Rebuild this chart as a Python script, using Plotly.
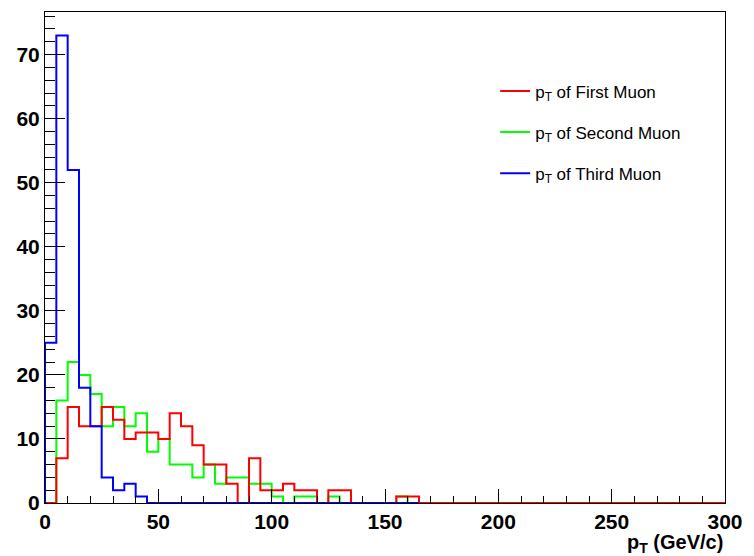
import plotly.graph_objects as go

# Histogram definition: 5 GeV bins from 0 to 300
bin_width = 5
x_min, x_max = 0, 300

# Counts per bin (bin i covers [5*i, 5*i+5))
first_muon = [0, 7, 15, 12, 12, 15, 13, 10, 11, 11, 10, 14, 12, 9, 6, 6, 3, 0, 7, 2,
              2, 3, 2, 2, 0, 2, 2, 0, 0, 0, 0, 1, 1, 0, 0, 0, 0, 0, 0, 0,
              0, 0, 0, 0, 0, 0, 0, 0, 0, 0, 0, 0, 0, 0, 0, 0, 0, 0, 0, 0]
second_muon = [0, 16, 22, 20, 17, 12, 15, 12, 14, 8, 10, 6, 6, 4, 6, 3, 4, 4, 3, 3,
               1, 0, 1, 1, 0, 1, 0, 0, 0, 0, 0, 1, 0, 0, 0, 0, 0, 0, 0, 0,
               0, 0, 0, 0, 0, 0, 0, 0, 0, 0, 0, 0, 0, 0, 0, 0, 0, 0, 0, 0]
third_muon = [25, 73, 52, 18, 12, 4, 2, 3, 1, 0, 0, 0, 0, 0, 0, 0, 0, 0, 0, 0,
              0, 0, 0, 0, 0, 0, 0, 0, 0, 0, 0, 0, 0]

names = ["p<sub>T</sub> of First Muon", "p<sub>T</sub> of Second Muon", "p<sub>T</sub> of Third Muon"]
colors = ["#ff0000", "#00ff00", "#0000ff"]

y_max = max(third_muon) * 1.05


def step_xy(counts):
    edges = [x_min + bin_width * i for i in range(len(counts) + 1)]
    xs = [edges[0]] + edges[:-1] + [edges[-1]]
    ys = [0] + list(counts) + [0]
    return xs, ys


fig = go.Figure()
# draw order: second, first, third (third on top)
series = [(first_muon, names[0], colors[0], 1),
          (second_muon, names[1], colors[1], 2),
          (third_muon, names[2], colors[2], 3)]
for idx in [1, 0, 2]:
    counts, name, color, rank = series[idx]
    xs, ys = step_xy(counts)
    fig.add_trace(go.Scatter(
        x=xs, y=ys, mode="lines", name=name,
        line=dict(color=color, width=2, shape="hv"),
        legendrank=rank, legendgroup=str(rank),
    ))

tickfont = dict(family="Liberation Sans, Arial, sans-serif", size=21, color="black", weight="bold")

fig.update_layout(
    width=754, height=556,
    margin=dict(l=45, r=24, t=11, b=53),
    paper_bgcolor="white", plot_bgcolor="white",
    showlegend=True,
    legend=dict(
        x=0.662, y=0.875, xanchor="left", yanchor="top",
        bgcolor="rgba(0,0,0,0)", borderwidth=0,
        font=dict(family="Liberation Sans, Arial, sans-serif", size=17, color="black"),
        tracegroupgap=16,
    ),
    xaxis=dict(
        range=[x_min, x_max], dtick=50, tick0=0,
        showgrid=False, zeroline=False,
        showline=True, linecolor="black", linewidth=1, mirror=True,
        ticks="inside", ticklen=14, tickcolor="black", tickwidth=1,
        minor=dict(ticks="inside", ticklen=7, dtick=10, tickcolor="black", tickwidth=1, showgrid=False),
        tickfont=tickfont,
    ),
    yaxis=dict(
        range=[0, y_max], dtick=10, tick0=0,
        showgrid=False, zeroline=False,
        showline=True, linecolor="black", linewidth=1, mirror=True,
        ticks="inside", ticklen=20, tickcolor="black", tickwidth=1,
        minor=dict(ticks="inside", ticklen=10, dtick=2, tickcolor="black", tickwidth=1, showgrid=False),
        tickfont=tickfont,
    ),
    annotations=[dict(
        text="p<sub>T</sub> (GeV/c)", xref="paper", yref="paper",
        x=1.0, y=-0.052, xanchor="right", yanchor="top", showarrow=False,
        font=dict(family="Liberation Sans, Arial, sans-serif", size=20, color="black", weight="bold"),
    )],
)

fig.write_html(
    "out.html",
    config={"displayModeBar": False},
    post_script="document.body.style.margin='0';document.body.style.padding='0';",
)
